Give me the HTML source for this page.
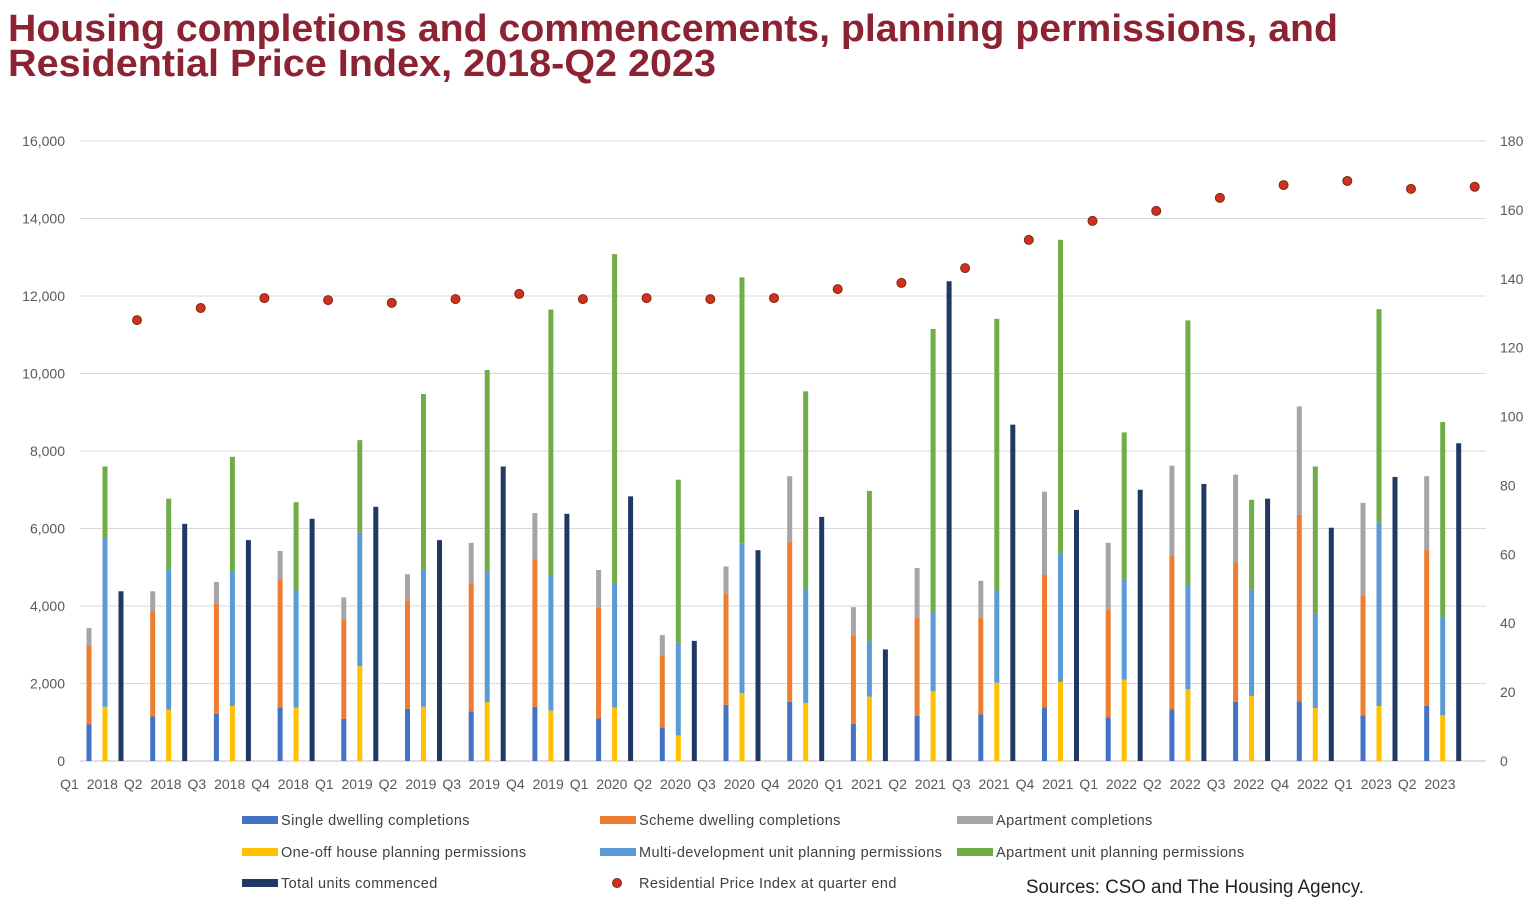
<!DOCTYPE html>
<html><head><meta charset="utf-8"><style>
body{margin:0;background:#fff;width:1536px;height:909px;overflow:hidden;font-family:"Liberation Sans",sans-serif}
</style></head><body>
<svg id="s" width="1536" height="909" xmlns="http://www.w3.org/2000/svg" font-family="Liberation Sans, sans-serif">
<text x="8" y="41" font-size="38" font-weight="bold" fill="#8c2332" textLength="1330" lengthAdjust="spacingAndGlyphs">Housing completions and commencements, planning permissions, and</text>
<text x="8" y="76" font-size="38" font-weight="bold" fill="#8c2332" textLength="708" lengthAdjust="spacingAndGlyphs">Residential Price Index, 2018-Q2 2023</text>
<g id="g"></g>
</svg>
<script>
const g=document.getElementById('g');let h='';
const Y=v=>761-v*0.03875, R=v=>761-v*620/180;
for(let i=0;i<=8;i++){const y=Y(i*2000);
h+=`<line x1="80" x2="1486" y1="${y}" y2="${y}" stroke="${i?'#d9d9d9':'#bfbfbf'}" stroke-width="1"/>`;
h+=`<text x="65" y="${y+5}" font-size="14" fill="#595959" text-anchor="end">${(i*2000).toLocaleString('en-US')}</text>`;}
for(let i=0;i<=9;i++){const y=R(i*20);h+=`<text x="1500" y="${y+5}" font-size="14" fill="#595959">${i*20}</text>`;}
const D=[[950,3000,3430,1400,5750,7600,4380],[1150,3880,4380,1320,4950,6770,6120],[1220,4050,4620,1420,4900,7850,5700],[1380,4700,5420,1380,4400,6680,6250],[1090,3650,4220,2450,5900,8280,6560],[1350,4150,4820,1400,4950,9470,5700],[1280,4600,5630,1520,4900,10090,7600],[1400,5200,6400,1300,4800,11650,6380],[1100,3950,4930,1380,4600,13080,6830],[870,2720,3250,660,3050,7260,3100],[1450,4320,5020,1750,5620,12480,5440],[1530,5650,7350,1500,4450,9540,6300],[960,3230,3970,1660,3080,6970,2880],[1170,3700,4980,1800,3870,11150,12380],[1200,3700,4650,2020,4400,11410,8680],[1380,4800,6950,2040,5350,13450,6480],[1130,3900,5630,2100,4700,8480,7000],[1330,5290,7620,1850,4530,11370,7150],[1530,5120,7390,1680,4420,6740,6770],[1540,6350,9150,1370,3800,7600,6020],[1180,4280,6660,1420,6150,11660,7330],[1420,5440,7350,1180,3700,8750,8200]];
const P=[128,131.5,134.4,133.8,133,134.1,135.6,134.1,134.4,134.1,134.4,137,138.8,143.1,151.3,156.8,159.7,163.5,167.2,168.4,166.1,166.7];
const C=['#4472c4','#ed7d31','#a5a5a5','#ffc000','#5b9bd5','#70ad47','#203864'];
const L=['Q1 2018','Q2 2018','Q3 2018','Q4 2018','Q1 2019','Q2 2019','Q3 2019','Q4 2019','Q1 2020','Q2 2020','Q3 2020','Q4 2020','Q1 2021','Q2 2021','Q3 2021','Q4 2021','Q1 2022','Q2 2022','Q3 2022','Q4 2022','Q1 2023','Q2 2023'];
const bar=(x,a,b,c)=>`<rect x="${x-2.5}" y="${Y(b)}" width="5" height="${Y(a)-Y(b)}" fill="${c}"/>`;
D.forEach((d,i)=>{const x=89+63.7*i;
h+=bar(x,0,d[0],C[0])+bar(x,d[0],d[1],C[1])+bar(x,d[1],d[2],C[2]);
h+=bar(x+16,0,d[3],C[3])+bar(x+16,d[3],d[4],C[4])+bar(x+16,d[4],d[5],C[5]);
h+=bar(x+32,0,d[6],C[6]);
h+=`<text x="${x}" y="789" font-size="14" fill="#595959" text-anchor="middle" word-spacing="4">${L[i]}</text>`;
h+=`<circle cx="${137+63.7*i}" cy="${R(P[i])}" r="4.5" fill="#d0311f" stroke="#7a2a10" stroke-width="1"/>`;});
const LG=[[242,820,C[0],'Single dwelling completions'],[600,820,C[1],'Scheme dwelling completions'],[957,820,C[2],'Apartment completions'],[242,852,C[3],'One-off house planning permissions'],[600,852,C[4],'Multi-development unit planning permissions'],[957,852,C[5],'Apartment unit planning permissions'],[242,883,C[6],'Total units commenced']];
LG.forEach(([x,y,c,t])=>{h+=`<rect x="${x}" y="${y-4}" width="36" height="8" fill="${c}"/><text x="${x+39}" y="${y+5}" font-size="14.5" fill="#404040" letter-spacing="0.4">${t}</text>`;});
h+=`<circle cx="617" cy="883" r="4.5" fill="#d0311f" stroke="#7a2a10"/><text x="639" y="888" font-size="14.5" fill="#404040" letter-spacing="0.4">Residential Price Index at quarter end</text>`;
h+=`<text x="1026" y="893" font-size="19" fill="#222" font-family="Liberation Sans Narrow, Liberation Sans, sans-serif" textLength="338" lengthAdjust="spacingAndGlyphs">Sources: CSO and The Housing Agency.</text>`;
g.innerHTML=h;
</script>
</body></html>
